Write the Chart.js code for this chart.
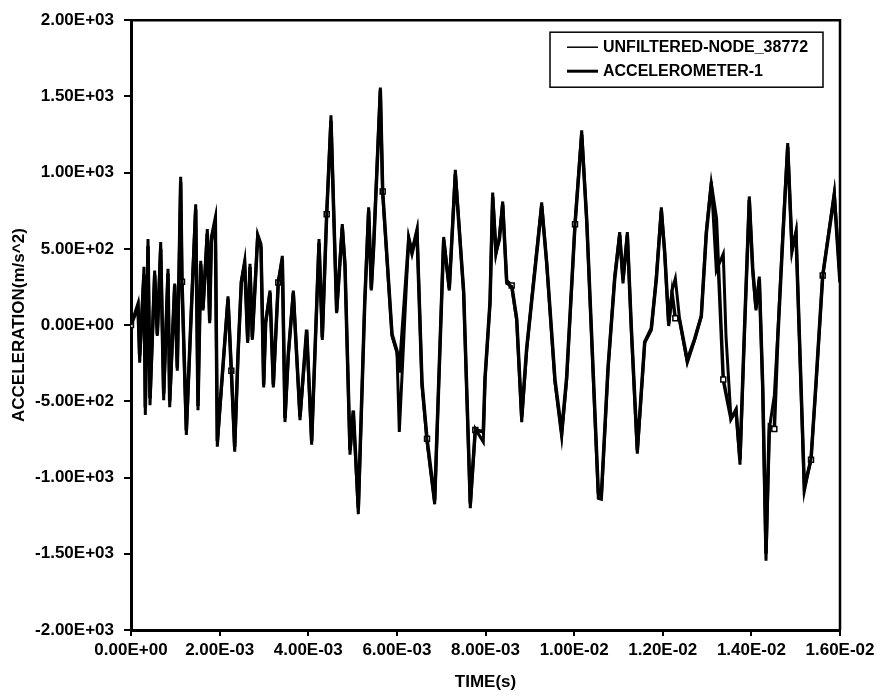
<!DOCTYPE html>
<html>
<head>
<meta charset="utf-8">
<script src="https://cdn.jsdelivr.net/npm/chart.js@4.4.1/dist/chart.umd.min.js"></script>
<style>
  body { margin: 0; background: #fff; }
  #caixa { width: 881px; height: 700px; }
</style>
</head>
<body>
<div id="caixa"><canvas id="grafico"></canvas></div>
<script>
// tempo em ms
const tempoMs = [
  0.000, 0.158, 0.196, 0.293, 0.323, 0.384, 0.429, 0.534, 0.594, 0.670,
  0.737, 0.835, 0.873, 0.986, 1.045, 1.121, 1.151, 1.249, 1.361, 1.460,
  1.512, 1.573, 1.625, 1.722, 1.775, 1.813, 1.903, 1.948, 2.189, 2.264,
  2.340, 2.415, 2.490, 2.565, 2.633, 2.685, 2.738, 2.858, 2.934, 2.994,
  3.039, 3.137, 3.212, 3.324, 3.415, 3.475, 3.550, 3.663, 3.814, 3.964,
  4.077, 4.243, 4.317, 4.416, 4.513, 4.641, 4.768, 4.829, 4.942, 5.017,
  5.130, 5.273, 5.363, 5.423, 5.477, 5.627, 5.680, 5.890, 6.003, 6.055,
  6.267, 6.341, 6.454, 6.567, 6.680, 6.853, 7.056, 7.183, 7.319, 7.507,
  7.657, 7.770, 7.950, 7.989, 8.102, 8.162, 8.237, 8.312, 8.388, 8.478,
  8.591, 8.704, 8.817, 8.930, 9.079, 9.268, 9.381, 9.568, 9.719, 9.832,
  10.020, 10.171, 10.284, 10.546, 10.614, 10.765, 10.915, 11.028, 11.103, 11.201,
  11.291, 11.426, 11.593, 11.742, 11.855, 11.968, 12.044, 12.134, 12.209, 12.284,
  12.382, 12.554, 12.721, 12.870, 12.983, 13.096, 13.209, 13.366, 13.427, 13.540,
  13.653, 13.743, 13.841, 13.953, 14.030, 14.104, 14.179, 14.256, 14.330, 14.405,
  14.518, 14.594, 14.707, 14.820, 14.917, 15.007, 15.082, 15.195, 15.346, 15.458,
  15.610, 15.871, 16.000
];

const unfiltered = [
  0, 143, -247, 383, -590, 565, -526, 357, -71, 545,
  -493, 370, -539, 273, -299, 973, 273, -720, 97, 792,
  -558, 422, 97, 630, 13, 578, 707, -798, 188, -292,
  -830, -201, 292, 422, -117, 402, -97, 597, 532, -409,
  13, 227, -409, 285, 454, -636, -201, 227, -623, -39,
  -785, 565, -97, 727, 1376, 78, 662, 402, -850, -571,
  -1240, 143, 772, 227, 532, 1558, 857, -71, -182, -701,
  578, 487, 630, -396, -766, -1175, 578, 227, 1019, 208,
  -1201, -681, -766, -357, 143, 870, 467, 578, 811, 273,
  253, 32, -636, -162, 273, 805, 402, -376, -733, -357,
  662, 1278, 681, -1136, -1142, -292, 318, 610, 273, 610,
  -32, -844, -117, -32, 318, 772, 467, -6, 227, 305,
  32, -247, -97, 58, 617, 941, 357, 467, -71, -616,
  -552, -915, -71, 844, 357, 97, 318, -422, -1545, -681,
  -461, -71, 578, 1194, 480, 617, -71, -1090, -876, -396,
  325, 870, 300
];

const accelerometer = [
  0, 120, -200, 330, -540, 520, -480, 330, -60, 500,
  -450, 340, -500, 260, -280, 940, 285, -690, 90, 760,
  -530, 400, 110, 600, 30, 550, 680, -760, 170, -299,
  -800, -190, 280, 400, -100, 380, -80, 570, 510, -390,
  20, 210, -390, 280, 430, -610, -190, 210, -600, -30,
  -760, 540, -80, 727, 1340, 90, 640, 390, -820, -560,
  -1200, 130, 750, 240, 520, 1540, 876, -60, -170, -311,
  560, 470, 610, -380, -746, -1150, 560, 240, 990, 220,
  -1170, -688, -700, -350, 150, 840, 480, 560, 790, 290,
  260, 40, -600, -150, 260, 780, 410, -360, -700, -340,
  662, 1250, 690, -1100, -1120, -280, 300, 590, 300, 590,
  -20, -820, -110, -20, 300, 750, 480, 10, 210, 45,
  30, -230, -90, 60, 600, 920, 700, -357, -450, -616,
  -560, -880, -60, 820, 370, 110, 300, -400, -1500, -660,
  -681, -100, 560, 1170, 500, 600, -60, -1060, -883, -380,
  325, 850, 280
];

// pontos com marcador quadrado vazado
const markerTimes = [0, 1.151, 2.264, 3.324, 4.416, 5.680, 6.680, 7.770, 8.591,
  10.020, 12.284, 13.366, 14.518, 15.346, 15.610];

const fonte = { family: '"Liberation Sans", Arial, sans-serif', weight: 'bold', size: 17 };

function sci(v) {
  const partes = Number(v).toExponential(2).split('e');
  const exp = partes[1];
  return partes[0] + 'E' + exp[0] + exp.slice(1).padStart(2, '0');
}

const pontos = serie => tempoMs.map((t, i) => ({ x: t / 1000, y: serie[i] }));

// espessura das linhas de amostra na legenda
const larguraLegenda = [1.5, 3];

// moldura (topo e direita) e legenda dentro da area do grafico
const molduraLegenda = {
  id: 'molduraLegenda',
  afterDraw(chart) {
    const { ctx, chartArea } = chart;
    ctx.save();
    ctx.strokeStyle = '#000';
    ctx.lineWidth = 2.5;
    ctx.beginPath();
    ctx.moveTo(chartArea.left, chartArea.top);
    ctx.lineTo(chartArea.right, chartArea.top);
    ctx.lineTo(chartArea.right, chartArea.bottom);
    ctx.stroke();

    const x0 = chartArea.right - 290, y0 = chartArea.top + 12, w = 273, h = 55;
    ctx.fillStyle = '#fff';
    ctx.fillRect(x0, y0, w, h);
    ctx.lineWidth = 1.5;
    ctx.strokeRect(x0, y0, w, h);
    ctx.font = 'bold 16px "Liberation Sans", Arial, sans-serif';
    ctx.textBaseline = 'middle';
    ctx.fillStyle = '#000';
    chart.data.datasets.forEach((ds, i) => {
      const y = y0 + 15 + i * 24;
      ctx.lineWidth = larguraLegenda[i];
      ctx.beginPath();
      ctx.moveTo(x0 + 17, y);
      ctx.lineTo(x0 + 48, y);
      ctx.stroke();
      ctx.fillText(ds.label, x0 + 53, y);
    });
    ctx.restore();
  }
};

new Chart(document.getElementById('grafico'), {
  type: 'line',
  data: {
    datasets: [
      {
        label: 'UNFILTERED-NODE_38772',
        data: pontos(unfiltered),
        borderColor: '#000',
        borderWidth: 3,
        pointRadius: 0,
        tension: 0
      },
      {
        label: 'ACCELEROMETER-1',
        data: pontos(accelerometer),
        borderColor: '#000',
        borderWidth: 3.5,
        tension: 0,
        pointStyle: 'rect',
        pointBackgroundColor: '#fff',
        pointBorderColor: '#000',
        pointBorderWidth: 1.5,
        pointRadius: c => markerTimes.includes(tempoMs[c.dataIndex]) ? 3.5 : 0
      }
    ]
  },
  options: {
    responsive: true,
    maintainAspectRatio: false,
    animation: false,
    layout: { padding: { top: 15, right: 41, bottom: 0, left: 0 } },
    plugins: { legend: { display: false }, tooltip: { enabled: false } },
    scales: {
      x: {
        type: 'linear',
        min: 0,
        max: 0.016,
        ticks: { stepSize: 0.002, callback: v => sci(v), color: '#000', font: fonte, padding: 4, maxRotation: 0, autoSkip: false },
        grid: { drawOnChartArea: false, drawTicks: true, tickLength: 6, color: '#000', lineWidth: 2 },
        border: { display: true, color: '#000', width: 3 },
        title: { display: true, text: 'TIME(s)', color: '#000', font: fonte, padding: { top: 0, bottom: 7 } },
        afterFit: s => { s.height = 70; }
      },
      y: {
        min: -2000,
        max: 2000,
        ticks: { stepSize: 500, callback: v => sci(v), color: '#000', font: fonte, padding: 10 },
        grid: { drawOnChartArea: false, drawTicks: true, tickLength: 7, color: '#000', lineWidth: 2 },
        border: { display: true, color: '#000', width: 3 },
        title: { display: true, text: 'ACCELERATION(m/s^2)', color: '#000', font: fonte, padding: { top: 9, bottom: 0 } },
        afterFit: s => { s.width = 131; }
      }
    }
  },
  plugins: [molduraLegenda]
});
</script>
</body>
</html>
